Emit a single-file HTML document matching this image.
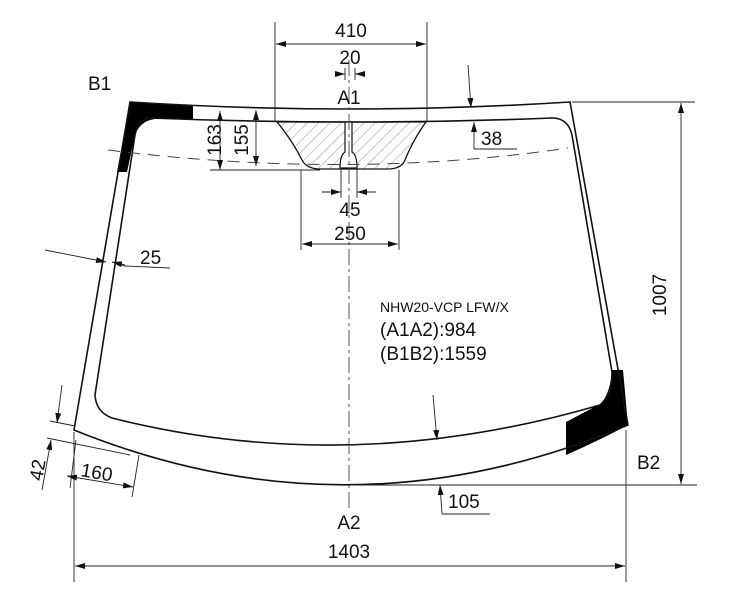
<!DOCTYPE html>
<html><head><style>
body{margin:0;background:#fff;}
svg{display:block;}
text{font-family:"Liberation Sans",sans-serif;fill:#111;}
</style></head><body>
<svg width="751" height="600" viewBox="0 0 751 600" xmlns="http://www.w3.org/2000/svg">
<defs>
<pattern id="h" width="8" height="8" patternUnits="userSpaceOnUse" patternTransform="rotate(45)">
<line x1="0" y1="0" x2="0" y2="8" stroke="#777" stroke-width="0.8"/>
</pattern>
<marker id="a" markerWidth="10" markerHeight="6" refX="10" refY="3" orient="auto-start-reverse" markerUnits="userSpaceOnUse">
<path d="M0,0 L10,3 L0,6 z" fill="#111"/>
</marker>
</defs>
<g fill="none" stroke="#111" stroke-width="1.6">
<path d="M130,102 L193,106 L193,119 L155,119 Q140,121 135,135 L127,172 L117,172 Z" fill="#000" stroke="none"/>
<path d="M566,422 L566,455 Q600,440 628,425 L623,370 L612,370 Q610,395 600,404 Q585,412 566,422 Z" fill="#000" stroke="none"/>
<path d="M74,430 L130,102 Q350,116 570,102 L628,425 Q350,542 74,430 Z"/>
<path d="M150,118 Q350,126 552,118 Q568,118 572,135 L612,372 Q612,398 600,405 Q350,478 112,418 Q96,412 95,395 L135,135 Q138,118 150,118 Z"/>
</g>
<path d="M277,122 L426,122 Q413,140 405,160 Q402,168 390,169 L318,169 Q306,168 302,160 Q292,140 277,122 Z" fill="url(#h)" stroke="#111" stroke-width="1.3"/>
<path d="M345,122 L345,152 Q340,155 340,168 L357,168 Q357,155 352,152 L352,122 Z" fill="#fff" stroke="#111" stroke-width="1.2"/>
<path d="M108,150 Q350,180 568,148" fill="none" stroke="#444" stroke-width="1" stroke-dasharray="12,8"/>
<line x1="349" y1="60" x2="349" y2="512" stroke="#444" stroke-width="0.9" stroke-dasharray="16,4,3,4"/>
<g stroke="#222" stroke-width="0.9" fill="none">
<line x1="275" y1="22" x2="275" y2="122"/><line x1="427" y1="22" x2="427" y2="122"/>
<line x1="276" y1="44" x2="426" y2="44" marker-start="url(#a)" marker-end="url(#a)"/>
<line x1="345" y1="68" x2="345" y2="80"/><line x1="355" y1="68" x2="355" y2="80"/>
<line x1="335" y1="74" x2="345" y2="74" marker-end="url(#a)"/><line x1="365" y1="74" x2="355" y2="74" marker-end="url(#a)"/>
<line x1="210" y1="170" x2="320" y2="170"/>
<line x1="220" y1="111" x2="220" y2="170" marker-start="url(#a)" marker-end="url(#a)"/>
<line x1="256" y1="110" x2="256" y2="166" marker-start="url(#a)" marker-end="url(#a)"/>
<line x1="341" y1="168" x2="341" y2="198"/><line x1="357" y1="168" x2="357" y2="198"/>
<line x1="322" y1="192" x2="341" y2="192" marker-end="url(#a)"/><line x1="376" y1="192" x2="357" y2="192" marker-end="url(#a)"/>
<line x1="301" y1="170" x2="301" y2="250"/><line x1="399" y1="170" x2="399" y2="250"/>
<line x1="302" y1="244" x2="398" y2="244" marker-start="url(#a)" marker-end="url(#a)"/>
<line x1="468" y1="65" x2="471" y2="108" marker-end="url(#a)"/>
<line x1="474" y1="135" x2="474" y2="122" marker-end="url(#a)"/>
<line x1="474" y1="149" x2="474" y2="135"/>
<line x1="474" y1="149" x2="517" y2="149"/>
<line x1="45" y1="250" x2="106" y2="262" marker-end="url(#a)"/>
<polyline points="170,268 125,266 112,262"/><line x1="125" y1="265" x2="112" y2="262" marker-end="url(#a)"/>
<line x1="572" y1="102" x2="695" y2="102"/><line x1="350" y1="485" x2="697" y2="485"/>
<line x1="681" y1="103" x2="681" y2="484" marker-start="url(#a)" marker-end="url(#a)"/>
<line x1="433" y1="395" x2="437" y2="440" marker-end="url(#a)"/>
<line x1="442" y1="514" x2="440" y2="485" marker-end="url(#a)"/>
<line x1="442" y1="514" x2="490" y2="514"/>
<line x1="74" y1="432" x2="74" y2="582"/><line x1="626" y1="430" x2="626" y2="582"/>
<line x1="75" y1="566" x2="625" y2="566" marker-start="url(#a)" marker-end="url(#a)"/>
<line x1="50" y1="421" x2="75" y2="426"/><line x1="47" y1="438" x2="130" y2="455"/>
<line x1="62" y1="385" x2="57" y2="423" marker-end="url(#a)"/>
<line x1="42" y1="490" x2="51" y2="440" marker-end="url(#a)"/>
<line x1="70" y1="488" x2="76" y2="440"/><line x1="132" y1="497" x2="139" y2="455"/>
<line x1="67" y1="476" x2="133" y2="487" marker-start="url(#a)" marker-end="url(#a)"/>
</g>
<g font-size="19">
<text x="351" y="37" text-anchor="middle">410</text>
<text x="350" y="64" text-anchor="middle">20</text>
<text x="349" y="104" text-anchor="middle">A1</text>
<text x="88" y="90">B1</text>
<text x="215" y="140" text-anchor="middle" transform="rotate(-90 215 140)" dy="6">163</text>
<text x="242" y="140" text-anchor="middle" transform="rotate(-90 242 140)" dy="6">155</text>
<text x="350" y="216" text-anchor="middle">45</text>
<text x="350" y="240" text-anchor="middle">250</text>
<text x="481" y="145">38</text>
<text x="140" y="264">25</text>
<text x="660" y="295" text-anchor="middle" transform="rotate(-90 660 295)" dy="6">1007</text>
<text x="380" y="336">(A1A2):984</text>
<text x="380" y="360">(B1B2):1559</text>
<text x="637" y="469">B2</text>
<text x="448" y="508">105</text>
<text x="349" y="529" text-anchor="middle">A2</text>
<text x="349" y="558" text-anchor="middle">1403</text>
<text x="80" y="476" transform="rotate(10 80 476)">160</text>
<text x="38" y="470" text-anchor="middle" transform="rotate(-80 38 470)" dy="6">42</text>
</g>
<text x="380" y="312" font-size="14">NHW20-VCP LFW/X</text>
</svg>
</body></html>
